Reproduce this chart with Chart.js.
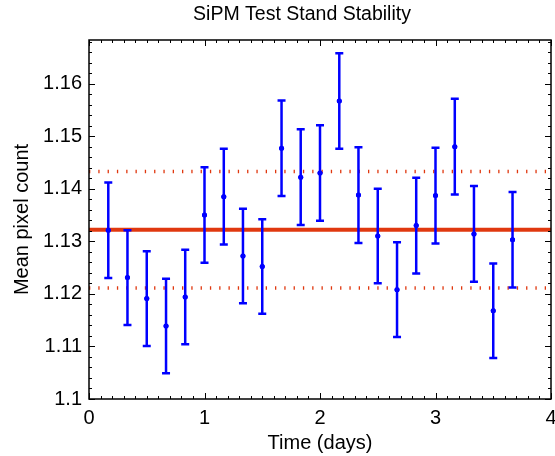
<!DOCTYPE html>
<html>
<head>
<meta charset="utf-8">
<script src="https://cdn.jsdelivr.net/npm/chart.js@4"></script>
<style>
  html, body { margin: 0; padding: 0; background: #fff; }
  #wrap { width: 555px; height: 456px; }
</style>
</head>
<body>
<div id="wrap"><canvas id="chart" width="555" height="456"></canvas></div>
<script>
/* ### Data ### */

const TITLE = 'SiPM Test Stand Stability';
const X_LABEL = 'Time (days)';
const Y_LABEL = 'Mean pixel count';

const times = [0.167, 0.333, 0.5, 0.667, 0.833, 1.0, 1.167, 1.333, 1.5, 1.667, 1.833,
               2.0, 2.167, 2.333, 2.5, 2.667, 2.833, 3.0, 3.167, 3.333, 3.5, 3.667];
const means = [1.1321, 1.1231, 1.1191, 1.1139, 1.1194, 1.1350, 1.1385, 1.1272, 1.1252, 1.1477, 1.1422,
               1.1430, 1.1567, 1.1388, 1.1310, 1.1208, 1.1330, 1.1387, 1.1480, 1.1314, 1.1168, 1.1303];
const errors = [0.0091, 0.0090, 0.0090, 0.0090, 0.0090, 0.0091, 0.0091, 0.0090, 0.0090, 0.0091, 0.0091,
                0.0091, 0.0091, 0.0091, 0.0090, 0.0090, 0.0091, 0.0091, 0.0091, 0.0091, 0.0090, 0.0091];

const overallMean = 1.1322;
const bandUpper = 1.1433;
const bandLower = 1.1211;

const xTicks = [0, 1, 2, 3, 4];
const yTicks = [1.1, 1.11, 1.12, 1.13, 1.14, 1.15, 1.16];
const xMinorStep = 0.1;
const yMinorStep = 0.002;

const X_MIN = 0, X_MAX = 4;
const Y_MIN = 1.1, Y_MAX = 1.1683;

/* ### Style ### */

const FONT = 'Liberation Sans, Arial, Helvetica, sans-serif';
const BLUE = '#0000ff';
const RED = '#e0380f';

/* ### Plugins ### */

// error bars, drawn over the reference lines
const errorBars = {
    id: 'errorBars',
    afterDatasetsDraw(chart) {
        const { ctx, chartArea: area } = chart;
        const x = chart.scales.x, y = chart.scales.y;
        ctx.save();
        ctx.beginPath();
        ctx.rect(area.left, area.top, area.right - area.left, area.bottom - area.top);
        ctx.clip();
        ctx.strokeStyle = BLUE;
        ctx.lineWidth = 2.5;
        times.forEach((t, i) => {
            const px = x.getPixelForValue(t);
            const top = y.getPixelForValue(means[i] + errors[i]);
            const bot = y.getPixelForValue(means[i] - errors[i]);
            ctx.beginPath();
            ctx.moveTo(px, top); ctx.lineTo(px, bot);
            ctx.moveTo(px - 4, top); ctx.lineTo(px + 4, top);
            ctx.moveTo(px - 4, bot); ctx.lineTo(px + 4, bot);
            ctx.stroke();
            ctx.fillStyle = BLUE;
            ctx.beginPath();
            ctx.arc(px, y.getPixelForValue(means[i]), 2.5, 0, Math.PI * 2);
            ctx.fill();
        });
        ctx.restore();
    }
};

// box frame with inward ticks on every side, and the title
const frame = {
    id: 'frame',
    afterDraw(chart) {
        const { ctx, chartArea: a } = chart;
        const x = chart.scales.x, y = chart.scales.y;
        ctx.save();
        ctx.strokeStyle = '#000';
        ctx.lineWidth = 1.5;
        ctx.strokeRect(a.left, a.top, a.right - a.left, a.bottom - a.top);

        ctx.lineWidth = 1;
        ctx.beginPath();
        for (let v = X_MIN; v <= X_MAX + 1e-9; v += xMinorStep) {
            const major = xTicks.some(t => Math.abs(t - v) < 1e-6);
            const len = major ? 6 : 3;
            const px = Math.round(x.getPixelForValue(v)) + 0.5;
            ctx.moveTo(px, a.bottom); ctx.lineTo(px, a.bottom - len);
            ctx.moveTo(px, a.top); ctx.lineTo(px, a.top + len);
        }
        for (let v = Y_MIN; v <= Y_MAX + 1e-9; v += yMinorStep) {
            const major = yTicks.some(t => Math.abs(t - v) < 1e-6);
            const len = major ? 6 : 3;
            const py = Math.round(y.getPixelForValue(v)) + 0.5;
            ctx.moveTo(a.left, py); ctx.lineTo(a.left + len, py);
            ctx.moveTo(a.right, py); ctx.lineTo(a.right - len, py);
        }
        ctx.stroke();

        ctx.fillStyle = '#000';
        ctx.font = '19.5px ' + FONT;
        ctx.textAlign = 'center';
        ctx.textBaseline = 'middle';
        ctx.fillText(TITLE, 302, 15);
        ctx.restore();
    }
};

/* ### Chart ### */

const points = times.map((t, i) => ({ x: t, y: means[i] }));

new Chart(document.getElementById('chart').getContext('2d'), {
    type: 'scatter',
    data: {
        datasets: [
            {
                label: 'Mean',
                data: [{ x: X_MIN, y: overallMean }, { x: X_MAX, y: overallMean }],
                type: 'line',
                borderColor: RED,
                borderWidth: 4,
                pointRadius: 0,
                order: 1
            },
            {
                label: 'Upper',
                data: [{ x: X_MIN, y: bandUpper }, { x: X_MAX, y: bandUpper }],
                type: 'line',
                borderColor: RED,
                borderWidth: 3.5,
                borderDash: [1.3, 8],
                pointRadius: 0,
                order: 1
            },
            {
                label: 'Lower',
                data: [{ x: X_MIN, y: bandLower }, { x: X_MAX, y: bandLower }],
                type: 'line',
                borderColor: RED,
                borderWidth: 3.5,
                borderDash: [1.3, 8],
                pointRadius: 0,
                order: 1
            },
            {
                label: 'Pixel count',
                data: points,
                backgroundColor: BLUE,
                borderColor: BLUE,
                pointRadius: 2.5,
                borderWidth: 0,
                order: 0
            }
        ]
    },
    options: {
        responsive: false,
        animation: false,
        layout: { padding: { top: 40, right: 4, left: 0, bottom: 0 } },
        plugins: {
            legend: { display: false },
            tooltip: { enabled: false },
            title: { display: false }
        },
        scales: {
            x: {
                type: 'linear',
                min: X_MIN,
                max: X_MAX,
                grid: { display: false, drawTicks: false },
                border: { display: false },
                afterBuildTicks: axis => { axis.ticks = xTicks.map(v => ({ value: v })); },
                afterFit: axis => { axis.height = 57; axis.paddingLeft = 0; axis.paddingRight = 0; },
                ticks: {
                    font: { family: FONT, size: 20 },
                    color: '#000',
                    padding: 7,
                    maxRotation: 0,
                    autoSkip: false,
                    callback: v => String(v)
                },
                title: {
                    display: true,
                    text: X_LABEL,
                    color: '#000',
                    font: { family: FONT, size: 20 },
                    padding: { top: 0, bottom: 1 }
                }
            },
            y: {
                type: 'linear',
                min: Y_MIN,
                max: Y_MAX,
                grid: { display: false, drawTicks: false },
                border: { display: false },
                afterBuildTicks: axis => { axis.ticks = yTicks.map(v => ({ value: v })); },
                afterFit: axis => { axis.width = 89; },
                ticks: {
                    font: { family: FONT, size: 20 },
                    color: '#000',
                    padding: 7,
                    autoSkip: false,
                    callback: v => String(parseFloat(v.toFixed(3)))
                },
                title: {
                    display: true,
                    text: Y_LABEL,
                    color: '#000',
                    font: { family: FONT, size: 20 },
                    padding: { top: 10, bottom: 0 }
                }
            }
        }
    },
    plugins: [errorBars, frame]
});
</script>
</body>
</html>
